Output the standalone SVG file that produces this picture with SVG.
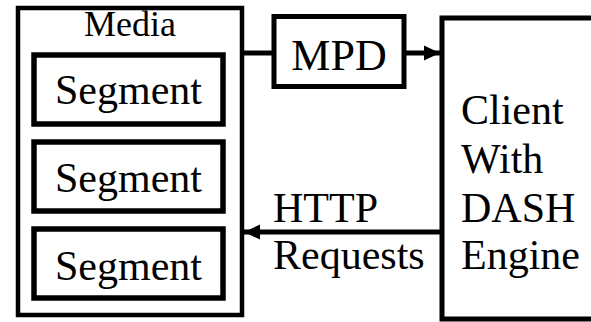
<svg xmlns="http://www.w3.org/2000/svg" width="591" height="322" viewBox="0 0 591 322">
<style>
  .box{fill:#fff;stroke:#000}
  .t{font-family:"Liberation Serif","Times New Roman",serif;fill:#000}
  .c{stroke:#000;stroke-width:5;fill:none}
</style>
<defs>
  <marker id="ah" markerUnits="userSpaceOnUse" markerWidth="16" markerHeight="16" viewBox="0 0 16 16" refX="16" refY="8" orient="auto">
    <path d="M0,0.5 L16,8 L0,15.5 Z" fill="#000"/>
  </marker>
</defs>
<rect width="591" height="322" fill="#fff"/>
<g id="media">
  <rect class="box" x="18" y="8" width="224" height="307" stroke-width="4.5"/>
  <text class="t" x="130" y="36" font-size="36" text-anchor="middle">Media</text>
</g>
<g id="segment1">
  <rect class="box" x="34" y="55" width="189" height="69" stroke-width="5.5"/>
  <text class="t" x="128.5" y="104" font-size="42" text-anchor="middle">Segment</text>
</g>
<g id="segment2">
  <rect class="box" x="34" y="142" width="189" height="69" stroke-width="5.5"/>
  <text class="t" x="128.5" y="192" font-size="42" text-anchor="middle">Segment</text>
</g>
<g id="segment3">
  <rect class="box" x="34" y="229" width="189" height="69" stroke-width="5.5"/>
  <text class="t" x="128.5" y="280" font-size="42" text-anchor="middle">Segment</text>
</g>
<g id="mpd">
  <rect class="box" x="274" y="16.5" width="130" height="70" stroke-width="5"/>
  <text class="t" x="339" y="70" font-size="44" text-anchor="middle">MPD</text>
</g>
<g id="client">
  <rect class="box" x="442" y="18" width="200" height="301" stroke-width="5"/>
  <text class="t" x="461" y="124" font-size="42">Client</text>
  <text class="t" x="461" y="173" font-size="42">With</text>
  <text class="t" x="461" y="222" font-size="42">DASH</text>
  <text class="t" x="461" y="269" font-size="42">Engine</text>
</g>
<g id="connectors">
  <path class="c" d="M244,53 L272,53"/>
  <path class="c" d="M406,53 L440,53" marker-end="url(#ah)"/>
  <path class="c" d="M440,232 L244,232" marker-end="url(#ah)"/>
  <text class="t" x="273" y="222" font-size="42">HTTP</text>
  <text class="t" x="273" y="269" font-size="42">Requests</text>
</g>
</svg>
